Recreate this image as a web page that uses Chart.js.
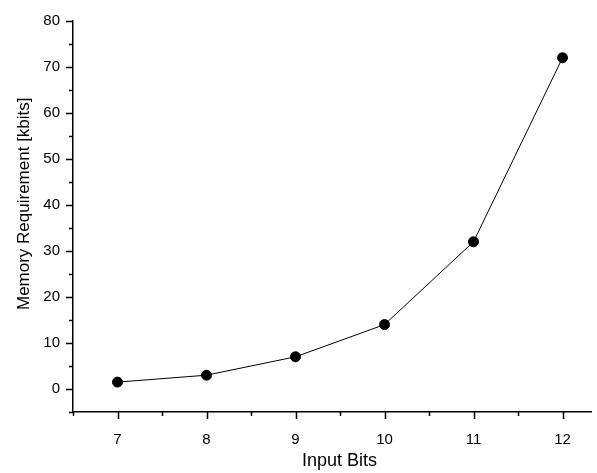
<!DOCTYPE html>
<html>
<head>
<meta charset="utf-8">
<script src="https://cdn.jsdelivr.net/npm/chart.js@4"></script>
<style>
html,body{margin:0;padding:0;background:#fff;}
#wrap{width:597px;height:473px;position:relative;}
</style>
</head>
<body>
<div id="wrap"><canvas id="c" width="597" height="473"></canvas></div>
<script>
const inputBits = [7, 8, 9, 10, 11, 12];
const memoryKbits = [1.5, 3, 7, 14, 32, 72];
const xMajorTicks = [7, 8, 9, 10, 11, 12];
const xMinorTicks = [6.5, 7.5, 8.5, 9.5, 10.5, 11.5];
const yMajorTicks = [0, 10, 20, 30, 40, 50, 60, 70, 80];
const yMinorTicks = [-5, 5, 15, 25, 35, 45, 55, 65, 75];

const tickPlugin = {
  id: 'tickMarks',
  afterDraw(chart) {
    const ctx = chart.ctx;
    const xs = chart.scales.x, ys = chart.scales.y;
    ctx.save();
    ctx.strokeStyle = '#000';
    ctx.lineWidth = 1.5;
    ctx.beginPath();
    const by = ys.getPixelForValue(ys.min);
    xMajorTicks.forEach(v => { const p = Math.round(xs.getPixelForValue(v)) + 0.5; ctx.moveTo(p, by); ctx.lineTo(p, by + 7); });
    xMinorTicks.forEach(v => { const p = Math.round(xs.getPixelForValue(v)) + 0.5; ctx.moveTo(p, by); ctx.lineTo(p, by + 4); });
    const lx = xs.getPixelForValue(xs.min);
    yMajorTicks.forEach(v => { const p = Math.round(ys.getPixelForValue(v)) + 0.5; ctx.moveTo(lx, p); ctx.lineTo(lx - 7, p); });
    yMinorTicks.forEach(v => { const p = Math.round(ys.getPixelForValue(v)) + 0.5; ctx.moveTo(lx, p); ctx.lineTo(lx - 4, p); });
    ctx.stroke();
    ctx.restore();
  }
};

Chart.defaults.font.family = '"Liberation Sans", Arial, sans-serif';
Chart.defaults.color = '#000';

new Chart(document.getElementById('c'), {
  type: 'line',
  data: {
    datasets: [{
      data: inputBits.map((x, i) => ({x: x, y: memoryKbits[i]})),
      borderColor: '#000',
      backgroundColor: '#000',
      borderWidth: 1,
      pointRadius: 5,
      pointHoverRadius: 5,
      pointBackgroundColor: '#000',
      pointBorderColor: '#000',
      tension: 0,
      clip: false
    }]
  },
  options: {
    responsive: false,
    animation: false,
    events: [],
    layout: { padding: { top: 21, right: 0, left: 0, bottom: 0 } },
    plugins: { legend: { display: false }, tooltip: { enabled: false } },
    scales: {
      x: {
        type: 'linear',
        min: 6.5,
        max: 12.32,
        afterBuildTicks: s => { s.ticks = xMajorTicks.map(v => ({value: v})); },
        afterFit: s => { s.height = 61; },
        border: { display: true, color: '#000', width: 1.5 },
        grid: { display: true, drawOnChartArea: false, drawTicks: true, tickLength: 8, tickColor: 'rgba(0,0,0,0)' },
        ticks: { font: { size: 15 }, padding: 11, maxRotation: 0, autoSkip: false },
        title: { display: true, text: '   Input Bits', font: { size: 18 }, padding: { top: 8, bottom: 1 } }
      },
      y: {
        type: 'linear',
        min: -5,
        max: 80,
        afterBuildTicks: s => { s.ticks = yMajorTicks.map(v => ({value: v})); },
        afterFit: s => { s.width = 73; },
        border: { display: true, color: '#000', width: 1.5 },
        grid: { display: true, drawOnChartArea: false, drawTicks: true, tickLength: 8, tickColor: 'rgba(0,0,0,0)' },
        ticks: { font: { size: 15 }, padding: 5, autoSkip: false },
        title: { display: true, text: '\u2002\u2002\u2002Memory Requirement [kbits]', font: { size: 17 }, padding: { top: 14, bottom: 0 } }
      }
    }
  },
  plugins: [tickPlugin]
});
</script>
</body>
</html>
